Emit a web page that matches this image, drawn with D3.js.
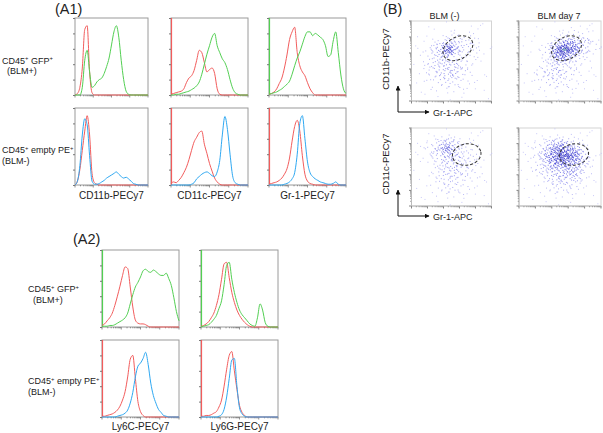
<!DOCTYPE html>
<html><head><meta charset="utf-8">
<script src="https://cdn.jsdelivr.net/npm/d3@7"></script>
<style>
body{margin:0;background:#fff}
svg{display:block}
text{font-family:"Liberation Sans",Arial,sans-serif;fill:#222}
</style>
</head><body>
<svg id="c" width="603" height="433"></svg>
<script>
// ---------- DATA (histograms: % of max per channel bin, 31 bins) ----------
const histBins = d3.range(31);
// A1, CD45+ GFP+ (BLM+): red = control, green = stained
const a1GfpCd11bRed   = [0,2,10,35,85,90,30,3,0,0,0,0,0,0,0,0,0,0,0,0,0,0,0,0,0,0,0,0,0,0,0];
const a1GfpCd11bGreen = [0,0,0,10,45,58,30,10,12,17,20,22,28,37,48,65,82,90,75,45,20,5,1,0,0,0,0,0,0,0,0];
const a1GfpCd11cRed   = [1,2,3,4,5,8,16,22,25,32,45,58,55,42,30,33,35,28,8,1,0,0,0,0,0,0,0,0,0,0,0];
const a1GfpCd11cGreen = [0,0,1,1,2,3,4,5,7,9,12,17,27,40,53,64,75,80,64,55,47,42,33,20,9,3,1,0,0,0,0];
const a1GfpGr1Red     = [1,2,4,8,15,22,35,52,72,82,88,55,38,30,25,16,8,3,0,0,0,0,0,0,0,0,0,0,0,0,0];
const a1GfpGr1Green   = [1,2,3,4,6,8,11,14,18,27,38,48,56,66,76,82,82,77,80,78,75,72,64,50,52,70,82,55,26,8,2];
// A1, CD45+ empty PE+ (BLM-): red = control, blue = stained
const a1EmptyCd11bRed  = [0,5,20,45,70,90,65,15,3,1,0,0,0,0,0,0,0,0,0,0,0,0,0,0,0,0,0,0,0,0,0];
const a1EmptyCd11bBlue = [0,5,25,65,86,78,38,5,1,1,2,4,6,9,11,13,15,17,14,11,9,10,8,5,2,1,0,0,0,0,0];
const a1EmptyCd11cRed  = [2,4,3,6,10,16,23,33,45,56,62,68,70,53,41,28,18,9,4,1,0,0,0,0,0,0,0,0,0,0,0];
const a1EmptyCd11cBlue = [0,0,0,0,0,0,0,0,1,3,8,11,14,16,17,15,12,11,17,32,65,89,72,40,12,3,1,0,0,0,0];
const a1EmptyGr1Red    = [1,2,3,4,6,9,14,21,35,57,76,84,70,38,14,5,2,1,0,0,0,0,0,0,0,0,0,0,0,0,0];
const a1EmptyGr1Blue   = [0,0,0,0,0,0,1,2,4,8,16,40,80,90,60,30,16,11,8,6,4,3,2,1,1,2,4,1,0,0,0];
// A2
const a2GfpLy6cRed    = [2,4,8,12,18,28,40,53,67,78,76,52,26,9,5,4,4,3,1,0,0,0,0,0,0,0,0,0,0,0,0];
const a2GfpLy6cGreen  = [1,1,1,2,2,3,5,7,9,12,18,30,42,52,58,65,73,75,72,71,74,72,69,67,67,70,63,54,38,20,8];
const a2GfpLy6gRed    = [1,2,4,7,12,18,28,42,62,82,84,64,45,32,22,15,10,6,3,1,0,0,0,0,0,0,0,0,0,0,0];
const a2GfpLy6gGreen  = [0,1,2,3,6,10,15,24,34,55,80,84,62,45,32,22,16,12,8,4,2,1,12,30,22,6,1,0,0,0,0];
const a2EmptyLy6cRed  = [1,1,2,3,4,6,9,14,22,33,52,75,80,50,20,7,2,0,0,0,0,0,0,0,0,0,0,0,0,0,0];
const a2EmptyLy6cBlue = [0,0,0,0,0,0,1,2,3,5,9,18,32,52,66,70,76,84,68,44,28,18,10,6,2,1,0,0,0,0,0];
const a2EmptyLy6gRed  = [1,1,2,2,3,5,7,13,22,40,62,80,85,60,36,15,6,2,0,0,0,0,0,0,0,0,0,0,0,0,0];
const a2EmptyLy6gBlue = [0,0,0,0,0,0,0,1,3,10,26,50,74,76,40,12,4,1,0,0,0,0,0,0,0,0,0,0,0,0,0];

const a1Markers = ["CD11b-PECy7","CD11c-PECy7","Gr-1-PECy7"];
const a2Markers = ["Ly6C-PECy7","Ly6G-PECy7"];

// ---------- DATA (scatter density grids, 10x10, rows top -> bottom) ----------
const bCd11bBlmNeg = [
 [0,0,0,0,0,0,0,0,0,0],
 [0,0,0,0,1,1,1,1,0,0],
 [0,0,1,2,3,3,2,2,1,0],
 [0,1,2,4,8,4,2,2,1,0],
 [0,1,2,3,3,2,2,1,1,0],
 [0,1,2,3,3,3,2,1,0,0],
 [0,1,2,3,3,3,2,1,0,0],
 [0,1,1,2,2,2,1,1,0,0],
 [0,0,1,1,1,1,1,0,0,0],
 [0,0,0,0,0,0,0,0,0,0]];
const bCd11bBlmDay7 = [
 [0,0,0,0,0,0,0,0,0,0],
 [0,0,0,0,1,1,2,1,1,0],
 [0,0,0,1,3,5,5,3,3,1],
 [0,0,1,3,7,9,7,4,2,1],
 [0,0,1,2,5,6,3,2,1,0],
 [0,0,1,2,3,2,2,1,1,0],
 [0,1,2,3,3,2,2,1,0,0],
 [0,1,1,2,2,2,1,1,0,0],
 [0,0,1,1,1,1,1,0,0,0],
 [0,0,0,0,0,0,0,0,0,0]];
const bCd11cBlmNeg = [
 [0,0,0,0,0,0,0,0,0,0],
 [0,0,1,2,3,2,1,1,0,0],
 [0,1,2,4,6,3,2,1,1,0],
 [0,1,2,3,4,3,2,2,1,0],
 [0,0,1,2,3,3,2,2,1,0],
 [0,0,1,2,3,3,2,2,1,0],
 [0,0,1,2,2,2,2,1,1,0],
 [0,0,1,1,2,2,1,1,0,0],
 [0,0,0,1,1,1,1,0,0,0],
 [0,0,0,0,0,0,0,0,0,0]];
const bCd11cBlmDay7 = [
 [0,0,0,0,0,0,0,0,0,0],
 [0,0,1,2,3,3,2,1,0,0],
 [0,1,2,4,6,6,5,3,1,0],
 [0,1,3,5,7,8,7,5,2,0],
 [0,1,2,4,6,6,5,4,2,0],
 [0,1,2,3,4,4,4,3,1,0],
 [0,0,1,2,3,3,3,2,1,0],
 [0,0,1,1,2,2,2,1,0,0],
 [0,0,0,1,1,1,1,0,0,0],
 [0,0,0,0,0,0,0,0,0,0]];
const bTitles = ["BLM (-)","BLM day 7"];
const bYLabels = ["CD11b-PECy7","CD11c-PECy7"];
const bXLabel = "Gr-1-APC";
// gates (ellipses) in data units
const gateCx = [5.8,5.8,6.9,6.7];
const gateCy = [6.6,6.6,6.6,6.6];
const gateRx = [2.0,1.95,1.8,1.8];
const gateRy = [1.38,1.38,1.37,1.37];
const gateAngle = [-30,-30,-10,-10];

// ---------- RENDER ----------
const svg = d3.select("#c");
const COL = {red:"#f25c5c", green:"#52cf52", blue:"#2ea8f2"};
const FRAME = "#9a9a9a";

function logTickValues(lo, hi, decades){
  const w = (hi-lo)/decades, out=[];
  for(let d=0; d<decades; d++) for(let m=1; m<=9; m++) out.push({v:lo+(d+Math.log10(m))*w, major:m===1});
  out.push({v:hi, major:true});
  return out;
}

function histPanel(box, series, pile, label){
  const g = svg.append("g");
  const x = d3.scaleLinear().domain([0,30]).range([box.x0, box.x1]);
  const y = d3.scaleLinear().domain([0,100]).range([box.y1, box.y0]);
  g.append("rect").attr("x",box.x0).attr("y",box.y0)
    .attr("width",box.x1-box.x0).attr("height",box.y1-box.y0)
    .attr("fill","#fff").attr("stroke",FRAME).attr("stroke-width",1);
  const ya = d3.axisLeft(y).tickValues([0,20,40,60,80,100]).tickSize(2).tickFormat("");
  const gy = g.append("g").attr("transform",`translate(${box.x0},0)`).call(ya);
  gy.select(".domain").remove();
  gy.selectAll("line").attr("stroke","#777");
  const tv = logTickValues(0,30,4);
  g.append("g").selectAll("line").data(tv).join("line")
    .attr("x1",d=>x(d.v)).attr("x2",d=>x(d.v))
    .attr("y1",box.y1).attr("y2",d=>box.y1+(d.major?2.5:1.3))
    .attr("stroke","#777").attr("stroke-width",0.8);
  const line = d3.line().x((d,i)=>x(histBins[i])).y(d=>y(d)).curve(d3.curveMonotoneX);
  pile.forEach(c=>{
    g.append("line").attr("x1",x(0)+0.5).attr("x2",x(0)+0.5).attr("y1",y(0)).attr("y2",y(100))
      .attr("stroke",COL[c]).attr("stroke-width",1.2);
  });
  series.forEach(s=>{
    g.append("path").datum(s.v).attr("d",line).attr("fill","none")
      .attr("stroke",COL[s.c]).attr("stroke-width",1);
  });
  if(label){
    svg.append("text").attr("x",(box.x0+box.x1)/2+(label.dx||0)).attr("y",label.y)
      .attr("text-anchor","middle").attr("font-size",10).text(label.t);
  }
}

function supText(x, y, parts, size){
  const t = svg.append("text").attr("x",x).attr("y",y).attr("font-size",size);
  let raised = false;
  parts.forEach(p=>{
    const ts = t.append("tspan").text(p.s);
    if(p.sup){ ts.attr("font-size",size*0.65).attr("dy",-size*0.38); raised=true; }
    else if(raised){ ts.attr("dy",size*0.38); raised=false; }
  });
  return t;
}

// ---- A1 ----
svg.append("text").attr("x",55).attr("y",14).attr("font-size",14.5).text("(A1)");
const a1Cols = [[75,148],[171,248],[269,346]];
const a1Rows = [[18,95],[108,185]];
const a1Data = [
  [[{c:"red",v:a1GfpCd11bRed},{c:"green",v:a1GfpCd11bGreen}],
   [{c:"red",v:a1GfpCd11cRed},{c:"green",v:a1GfpCd11cGreen}],
   [{c:"red",v:a1GfpGr1Red},{c:"green",v:a1GfpGr1Green}]],
  [[{c:"red",v:a1EmptyCd11bRed},{c:"blue",v:a1EmptyCd11bBlue}],
   [{c:"red",v:a1EmptyCd11cRed},{c:"blue",v:a1EmptyCd11cBlue}],
   [{c:"red",v:a1EmptyGr1Red},{c:"blue",v:a1EmptyGr1Blue}]]];
const a1Piles = [[[],["red"],["green"]],[[],["red"],["red"]]];
a1Rows.forEach((r,ri)=>a1Cols.forEach((c,ci)=>{
  histPanel({x0:c[0],x1:c[1],y0:r[0],y1:r[1]}, a1Data[ri][ci], a1Piles[ri][ci],
    ri===1?{t:a1Markers[ci],y:199}:null);
}));
supText(2,63.5,[{s:"CD45"},{s:"+",sup:1},{s:" GFP"},{s:"+",sup:1}],9);
svg.append("text").attr("x",7).attr("y",74).attr("font-size",9).text("(BLM+)");
supText(2,153,[{s:"CD45"},{s:"+",sup:1},{s:" empty PE"},{s:"+",sup:1}],9);
svg.append("text").attr("x",2).attr("y",164).attr("font-size",9).text("(BLM-)");

// ---- A2 ----
svg.append("text").attr("x",73).attr("y",244).attr("font-size",14.5).text("(A2)");
const a2Cols = [[102,179],[201,278]];
const a2Rows = [[250,327],[340,417]];
const a2Data = [
  [[{c:"red",v:a2GfpLy6cRed},{c:"green",v:a2GfpLy6cGreen}],
   [{c:"red",v:a2GfpLy6gRed},{c:"green",v:a2GfpLy6gGreen}]],
  [[{c:"red",v:a2EmptyLy6cRed},{c:"blue",v:a2EmptyLy6cBlue}],
   [{c:"red",v:a2EmptyLy6gRed},{c:"blue",v:a2EmptyLy6gBlue}]]];
const a2Piles = [[["green"],["green"]],[["red"],["red"]]];
a2Rows.forEach((r,ri)=>a2Cols.forEach((c,ci)=>{
  histPanel({x0:c[0],x1:c[1],y0:r[0],y1:r[1]}, a2Data[ri][ci], a2Piles[ri][ci],
    ri===1?{t:a2Markers[ci],y:430}:null);
}));
supText(28,292,[{s:"CD45"},{s:"+",sup:1},{s:" GFP"},{s:"+",sup:1}],9);
svg.append("text").attr("x",33).attr("y",303).attr("font-size",9).text("(BLM+)");
supText(28,384,[{s:"CD45"},{s:"+",sup:1},{s:" empty PE"},{s:"+",sup:1}],9);
svg.append("text").attr("x",28).attr("y",395).attr("font-size",9).text("(BLM-)");

// ---- B ----
svg.append("text").attr("x",383).attr("y",14).attr("font-size",14.5).text("(B)");
const bCols = [[411.5,491.5],[519,601]];
const bRows = [[21,101],[128,206]];
const bGrids = [[bCd11bBlmNeg,bCd11bBlmDay7],[bCd11cBlmNeg,bCd11cBlmDay7]];

function halton(i,b){let f=1,r=0;while(i>0){f/=b;r+=f*(i%b);i=Math.floor(i/b);}return r;}
function densAt(grid,xv,yv){
  const cx=Math.max(0,Math.min(9,xv-0.5)), cy=Math.max(0,Math.min(9,(10-yv)-0.5));
  const c0=Math.min(8,Math.floor(cx)), r0=Math.min(8,Math.floor(cy));
  const fx=cx-c0, fy=cy-r0;
  return grid[r0][c0]*(1-fx)*(1-fy)+grid[r0][c0+1]*fx*(1-fy)+grid[r0+1][c0]*(1-fx)*fy+grid[r0+1][c0+1]*fx*fy;
}
const dotColor = d3.scaleLinear().domain([0,2,4,6,8,9]).range(["#c4c4f7","#a0a0f2","#7272e6","#4848d6","#3030c4","#4a9a8a"]).clamp(true);
const keepProb = d => 0.008 + 0.018*d + 0.009*d*d;

bRows.forEach((r,ri)=>bCols.forEach((c,ci)=>{
  const g = svg.append("g");
  const x = d3.scaleLinear().domain([0,10]).range([c[0],c[1]]);
  const y = d3.scaleLinear().domain([0,10]).range([r[1],r[0]]);
  g.append("rect").attr("x",c[0]).attr("y",r[0]).attr("width",c[1]-c[0]).attr("height",r[1]-r[0])
    .attr("fill","#fff").attr("stroke","#d4d4d4");
  const grid = bGrids[ri][ci];
  const pts=[];
  for(let i=1;i<=7000;i++){
    const xv=halton(i,2)*10, yv=halton(i,3)*10;
    const d=densAt(grid,xv,yv);
    if(halton(i,5) < keepProb(d)) pts.push([xv,yv,d]);
  }
  g.append("g").selectAll("rect").data(pts).join("rect")
    .attr("x",d=>x(d[0])).attr("y",d=>y(d[1])).attr("width",1).attr("height",1)
    .attr("fill",d=>dotColor(d[2])).attr("opacity",0.9);
  const tv = logTickValues(0,10,5);
  g.append("g").selectAll("line").data(tv).join("line")
    .attr("x1",c[0]).attr("x2",d=>c[0]-(d.major?2.5:1.2)).attr("y1",d=>y(d.v)).attr("y2",d=>y(d.v))
    .attr("stroke","#666").attr("stroke-width",0.8);
  g.append("g").selectAll("line").data(tv).join("line")
    .attr("y1",r[1]).attr("y2",d=>r[1]+(d.major?2.5:1.2)).attr("x1",d=>x(d.v)).attr("x2",d=>x(d.v))
    .attr("stroke","#666").attr("stroke-width",0.8);
  g.append("line").attr("x1",c[0]).attr("x2",c[0]).attr("y1",r[0]).attr("y2",r[1]).attr("stroke","#bbb");
  g.append("line").attr("x1",c[0]).attr("x2",c[1]).attr("y1",r[1]).attr("y2",r[1]).attr("stroke","#bbb");
  const k = ri*2+ci;
  const ex=x(gateCx[k]), ey=y(gateCy[k]);
  g.append("ellipse").attr("cx",ex).attr("cy",ey)
    .attr("rx",x(gateRx[k])-x(0)).attr("ry",y(0)-y(gateRy[k]))
    .attr("transform",`rotate(${gateAngle[k]},${ex},${ey})`)
    .attr("fill","none").attr("stroke","#333").attr("stroke-width",1).attr("stroke-dasharray","3,2");
  if(ri===0){
    svg.append("text").attr("x",(c[0]+c[1])/2 + (ci===0?-7:-1)).attr("y",19).attr("text-anchor","middle")
      .attr("font-size",9).text(bTitles[ci]);
  }
}));
const defs = svg.append("defs");
defs.append("marker").attr("id","ah").attr("viewBox","0 0 10 10").attr("refX",9).attr("refY",5)
  .attr("markerWidth",5).attr("markerHeight",5).attr("orient","auto")
  .append("path").attr("d","M0,0L10,5L0,10z").attr("fill","#111");
[[112,86,59],[216,190,164]].forEach(([yb,yt,ly],i)=>{
  svg.append("line").attr("x1",398).attr("x2",398).attr("y1",yb).attr("y2",yt)
    .attr("stroke","#111").attr("stroke-width",1).attr("marker-end","url(#ah)");
  svg.append("line").attr("x1",398).attr("x2",429).attr("y1",yb).attr("y2",yb)
    .attr("stroke","#111").attr("stroke-width",1).attr("marker-end","url(#ah)");
  svg.append("text").attr("x",433).attr("y",yb+3.5).attr("font-size",9).text(bXLabel);
  svg.append("text").attr("transform",`translate(389,${ly}) rotate(-90)`).attr("text-anchor","middle")
    .attr("font-size",9.5).text(bYLabels[i]);
});
</script>
</body></html>
